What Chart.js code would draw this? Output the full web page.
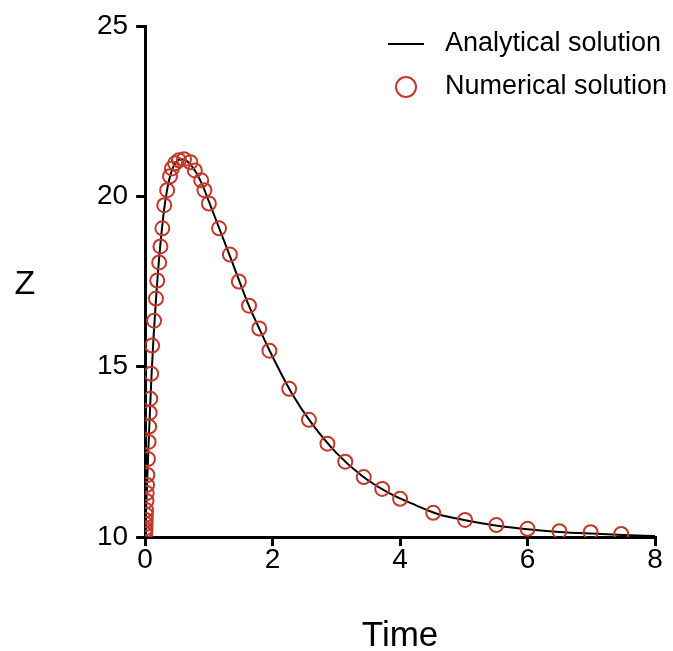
<!DOCTYPE html>
<html>
<head>
<meta charset="utf-8">
<script src="https://cdn.jsdelivr.net/npm/chart.js@4.4.1/dist/chart.umd.min.js"></script>
<style>
  html, body { margin: 0; padding: 0; background: #ffffff; }
  #wrap { width: 673px; height: 651px; }
</style>
</head>
<body>
<div id="wrap"><canvas id="c" width="673" height="651"></canvas></div>
<script>
// ---- data ----
const xTickLabels = ["0", "2", "4", "6", "8"];
const yTickLabels = ["10", "15", "20", "25"];

const numTime = [0.002, 0.004, 0.006, 0.008, 0.010, 0.013, 0.016, 0.021, 0.025, 0.030, 0.035, 0.044,
  0.054, 0.063, 0.072, 0.080, 0.095, 0.110, 0.140, 0.170, 0.190, 0.220, 0.240, 0.270, 0.300, 0.345,
  0.390, 0.420, 0.470, 0.530, 0.610, 0.710, 0.780, 0.880, 0.930, 1.000, 1.160, 1.330, 1.470, 1.630,
  1.790, 1.950, 2.260, 2.570, 2.860, 3.140, 3.430, 3.720, 4.000, 4.520, 5.020, 5.510, 6.000, 6.500,
  6.990, 7.470];
const numZ = [10.09, 10.18, 10.26, 10.38, 10.50, 10.65, 10.79, 11.06, 11.29, 11.53, 11.82, 12.29,
  12.79, 13.24, 13.65, 14.06, 14.79, 15.62, 16.35, 17.00, 17.53, 18.06, 18.53, 19.06, 19.74, 20.18,
  20.59, 20.82, 20.97, 21.06, 21.09, 21.00, 20.76, 20.47, 20.18, 19.79, 19.06, 18.29, 17.50, 16.79,
  16.12, 15.47, 14.35, 13.44, 12.74, 12.21, 11.76, 11.41, 11.12, 10.71, 10.50, 10.35, 10.24, 10.17,
  10.14, 10.09];

const anaTime = [0, 0.02, 0.04, 0.06, 0.08, 0.10, 0.13, 0.16, 0.20, 0.25, 0.30, 0.35, 0.40, 0.45,
  0.50, 0.55, 0.60, 0.65, 0.70, 0.80, 0.90, 1.00, 1.20, 1.40, 1.60, 1.80, 2.00, 2.30, 2.60, 3.00,
  3.40, 3.80, 4.20, 4.60, 5.00, 5.50, 6.00, 6.50, 7.00, 7.50, 8.00];
const anaZ = [10.00, 11.05, 12.05, 13.00, 13.90, 14.75, 15.80, 16.70, 17.75, 18.80, 19.65, 20.25,
  20.65, 20.90, 21.03, 21.08, 21.08, 21.04, 20.96, 20.70, 20.33, 19.85, 18.88, 17.90, 16.92, 16.08,
  15.29, 14.22, 13.37, 12.47, 11.80, 11.32, 10.97, 10.67, 10.50, 10.34, 10.23, 10.15, 10.10, 10.06,
  10.03];

const seriesNames = ["Analytical solution", "Numerical solution"];

// ---- build points ----
const anaPoints = anaTime.map((t, i) => ({ x: t, y: anaZ[i] }));
const numPoints = numTime.map((t, i) => ({ x: t, y: numZ[i] }));

const RED = "#C4372B";
const FONT = "'Liberation Sans', Arial, Helvetica, sans-serif";

const yTitlePlugin = {
  id: "yTitleUpright",
  afterDraw(chart) {
    const ctx = chart.ctx;
    ctx.save();
    ctx.fillStyle = "#000";
    ctx.font = "34px " + FONT;
    ctx.textAlign = "center";
    ctx.textBaseline = "middle";
    ctx.fillText("Z", 25, chart.scales.y.getPixelForValue(17.4));
    ctx.restore();
  }
};

const legendPlugin = {
  id: "insideLegend",
  afterDraw(chart) {
    const ctx = chart.ctx;
    const ca = chart.chartArea;
    const ds = chart.data.datasets;
    const textX = ca.right - 210;
    const symX = ca.right - 249;
    const rows = [ca.top + 18, ca.top + 61];
    ctx.save();
    ctx.font = "27px " + FONT;
    ctx.textBaseline = "middle";
    ctx.textAlign = "left";
    ctx.fillStyle = "#000";
    ctx.strokeStyle = ds[0].borderColor;
    ctx.lineWidth = ds[0].borderWidth;
    ctx.beginPath();
    ctx.moveTo(symX - 18, rows[0]);
    ctx.lineTo(symX + 18, rows[0]);
    ctx.stroke();
    ctx.fillText(ds[0].label, textX, rows[0]);
    ctx.strokeStyle = ds[1].borderColor;
    ctx.lineWidth = ds[1].borderWidth;
    ctx.beginPath();
    ctx.arc(symX, rows[1], 10, 0, Math.PI * 2);
    ctx.stroke();
    ctx.fillText(ds[1].label, textX, rows[1]);
    ctx.restore();
  }
};

new Chart(document.getElementById("c"), {
  type: "scatter",
  data: {
    datasets: [
      {
        label: seriesNames[0],
        data: anaPoints,
        showLine: true,
        borderColor: "#000000",
        borderWidth: 2,
        pointRadius: 0,
        cubicInterpolationMode: "monotone",
        fill: false,
        order: 2
      },
      {
        label: seriesNames[1],
        data: numPoints,
        showLine: false,
        borderColor: RED,
        backgroundColor: "rgba(0,0,0,0)",
        borderWidth: 2,
        pointRadius: 7,
        pointHoverRadius: 7,
        order: 1
      }
    ]
  },
  options: {
    responsive: false,
    devicePixelRatio: 1,
    animation: false,
    layout: { padding: { left: 89, right: 18, top: 26, bottom: -3 } },
    plugins: {
      legend: { display: false },
      tooltip: { enabled: false }
    },
    scales: {
      x: {
        type: "linear",
        min: 0,
        max: 8,
        afterBuildTicks(scale) {
          scale.ticks = xTickLabels.map(v => ({ value: Number(v) }));
        },
        ticks: {
          color: "#000",
          font: { size: 28, family: FONT, lineHeight: 1 },
          padding: 0,
          maxRotation: 0,
          callback: (v) => String(v)
        },
        grid: {
          drawOnChartArea: false,
          drawTicks: true,
          tickLength: 9,
          color: "#000",
          lineWidth: 3
        },
        border: { color: "#000", width: 3 },
        title: {
          display: true,
          text: "Time",
          color: "#000",
          font: { size: 35, family: FONT, lineHeight: 1 },
          padding: { top: 45, bottom: 0 }
        }
      },
      y: {
        type: "linear",
        min: 10,
        max: 25,
        afterBuildTicks(scale) {
          scale.ticks = yTickLabels.map(v => ({ value: Number(v) }));
        },
        ticks: {
          color: "#000",
          font: { size: 28, family: FONT },
          padding: 8,
          callback: (v) => String(v)
        },
        grid: {
          drawOnChartArea: false,
          drawTicks: true,
          tickLength: 9,
          color: "#000",
          lineWidth: 3
        },
        border: { color: "#000", width: 3 },
        title: { display: false }
      }
    }
  },
  plugins: [yTitlePlugin, legendPlugin]
});
</script>
</body>
</html>
